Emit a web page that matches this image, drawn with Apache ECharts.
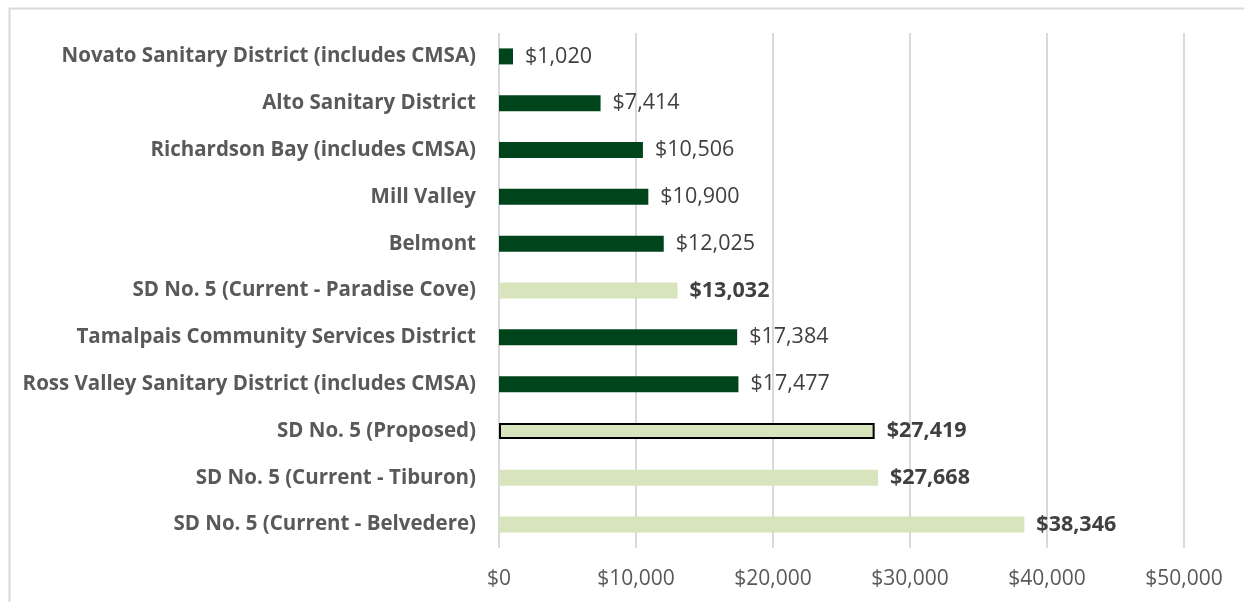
<!DOCTYPE html>
<html><head><meta charset="utf-8">
<script src="https://cdn.jsdelivr.net/npm/echarts@6/dist/echarts.min.js"></script>
<style>html,body{margin:0;padding:0;background:#fff}#c{width:1244px;height:602px}</style>
</head><body><div id="c"></div>
<script>
const categories = [
  "Novato Sanitary District (includes CMSA)",
  "Alto Sanitary District",
  "Richardson Bay (includes CMSA)",
  "Mill Valley",
  "Belmont",
  "SD No. 5 (Current - Paradise Cove)",
  "Tamalpais Community Services District",
  "Ross Valley Sanitary District (includes CMSA)",
  "SD No. 5 (Proposed)",
  "SD No. 5 (Current - Tiburon)",
  "SD No. 5 (Current - Belvedere)"
];
const values = [1020, 7414, 10506, 10900, 12025, 13032, 17384, 17477, 27419, 27668, 38346];
const isSD5 = [false, false, false, false, false, true, false, false, true, true, true];
const isProposed = [false, false, false, false, false, false, false, false, true, false, false];
const xTicks = [0, 10000, 20000, 30000, 40000, 50000];

const fmt = v => '$' + Math.round(v).toLocaleString('en-US');
const FONT = '"Open Sans", Lato, sans-serif';

const chart = echarts.init(document.getElementById('c'));
chart.setOption({
  animation: false,
  backgroundColor: '#fff',
  graphic: [{
    type: 'rect', left: 7, top: 6, shape: {width: 1260, height: 620},
    style: {fill: 'none', stroke: '#d9d9d9', lineWidth: 2}, silent: true, z: -1
  }],
  grid: {left: 499, right: 60, top: 33, bottom: 54},
  xAxis: {
    type: 'value', min: xTicks[0], max: xTicks[xTicks.length - 1], interval: 10000,
    axisLine: {show: false}, axisTick: {show: false},
    splitLine: {lineStyle: {color: '#d9d9d9', width: 2}},
    axisLabel: {formatter: fmt, color: '#595959', fontSize: 21, fontFamily: FONT, margin: 21}
  },
  yAxis: {
    type: 'category', data: categories, inverse: true,
    axisLine: {show: false}, axisTick: {show: false},
    axisLabel: {color: '#595959', fontSize: 20.5, fontWeight: 'bold', fontFamily: FONT, margin: 23}
  },
  series: [{
    type: 'bar', barWidth: 16,
    data: values.map((v, i) => ({
      value: v,
      itemStyle: {
        color: isSD5[i] ? '#d8e4bc' : '#00441b',
        borderColor: isProposed[i] ? '#000' : 'transparent',
        borderWidth: isProposed[i] ? 2 : 0
      },
      label: {fontWeight: isSD5[i] ? 'bold' : 'normal'}
    })),
    label: {
      show: true, position: 'right', distance: 12,
      formatter: p => fmt(p.value),
      color: '#404040', fontSize: 21.5, fontFamily: FONT
    }
  }]
});
</script></body></html>
